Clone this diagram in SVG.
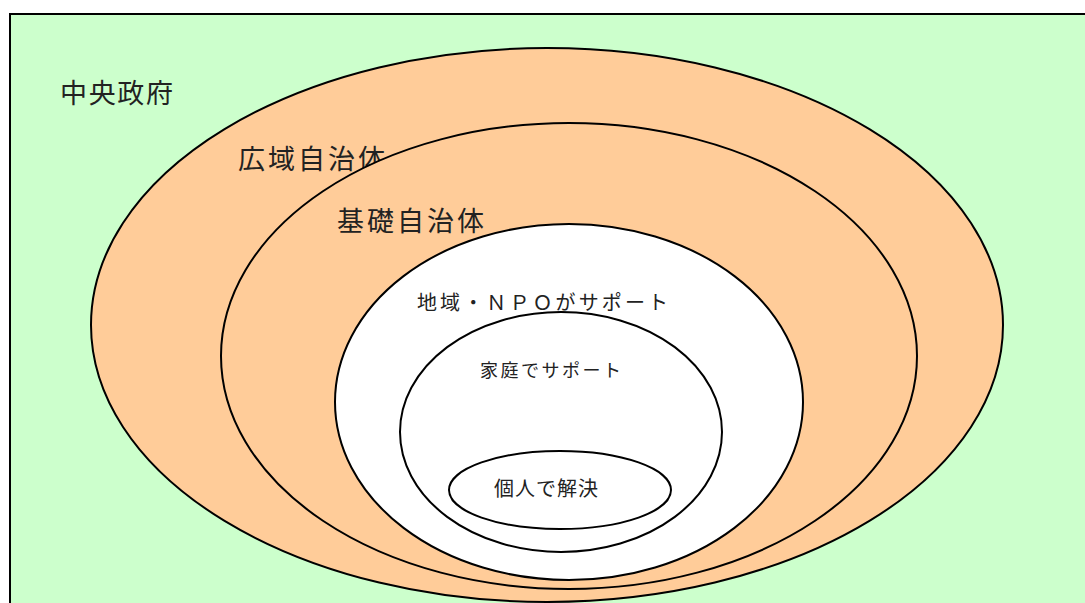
<svg xmlns="http://www.w3.org/2000/svg" width="1085" height="603" viewBox="0 0 1085 603">
<style>
.e{stroke:#000;stroke-width:2}
.t{font-family:"Noto Sans CJK JP","Noto Sans",sans-serif;fill:#222}
</style>
<rect width="1085" height="603" fill="#fff"/>
<g id="central">
<rect x="10" y="14" width="1090" height="600" fill="#CCFFCC" stroke="#000" stroke-width="2"/>
<text class="t" x="60" y="103" font-size="27" textLength="113" lengthAdjust="spacing">中央政府</text>
</g>
<g id="prefecture">
<ellipse class="e" cx="547" cy="325" rx="456" ry="277" fill="#FFCC99"/>
<text class="t" x="238" y="169" font-size="27" textLength="147" lengthAdjust="spacing">広域自治体</text>
</g>
<g id="municipality">
<ellipse class="e" cx="569" cy="356" rx="348" ry="233" fill="#FFCC99"/>
<text class="t" x="337" y="231" font-size="27" textLength="147" lengthAdjust="spacing">基礎自治体</text>
</g>
<g id="community">
<ellipse class="e" cx="569" cy="402" rx="234" ry="178" fill="#fff"/>
<text class="t" x="417" y="310" font-size="20" textLength="251" lengthAdjust="spacing">地域・ＮＰＯがサポート</text>
</g>
<g id="family">
<ellipse class="e" cx="561" cy="432" rx="161" ry="120" fill="#fff"/>
<text class="t" x="480" y="377" font-size="18" textLength="141" lengthAdjust="spacing">家庭でサポート</text>
</g>
<g id="individual">
<ellipse class="e" cx="560" cy="490" rx="111" ry="39" fill="#fff"/>
<text class="t" x="494" y="496" font-size="20" textLength="104" lengthAdjust="spacing">個人で解決</text>
</g>
<g id="connectors"></g>
</svg>
